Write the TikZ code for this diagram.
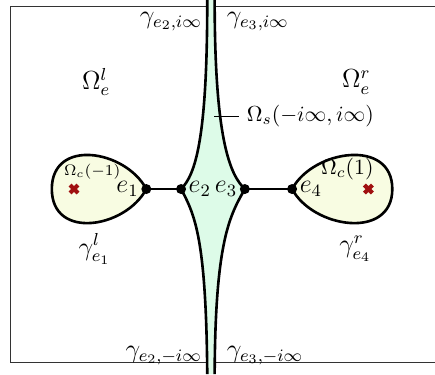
\documentclass[tikz,border=0pt]{standalone}
\usepackage{amsmath,amssymb}
\usepackage{xcolor}
\usepackage{tikz}
\definecolor{stemfill}{RGB}{221,251,232}
\definecolor{loopfill}{RGB}{248,252,226}
\definecolor{crossred}{RGB}{160,16,16}

\begin{document}
\begin{tikzpicture}[x=0.92cm,y=0.92cm,
  curve/.style={line width=1.2pt},
  crossmark/.style={line width=1.9pt,crossred}]
\clip (0,0) rectangle (7.64,6.57);
\draw[thin,black!80] (0.19,0.21) rectangle (7.9,6.46);

% branch points on the real line
\coordinate (e1) at (2.57,3.25);
\coordinate (e2) at (3.18,3.25);
\coordinate (e3) at (4.30,3.25);
\coordinate (e4) at (5.13,3.25);
\coordinate (cl) at (1.30,3.25);
\coordinate (cr) at (6.47,3.25);

% the strip Omega_s
\fill[stemfill] (3.64,6.57) .. controls (3.64,4.11) and (3.43,3.50) .. (e2)
  .. controls (3.43,2.79) and (3.62,2.35) .. (3.64,0) -- (3.77,0)
  .. controls (3.78,2.35) and (4.04,2.79) .. (e3)
  .. controls (4.04,3.50) and (3.77,4.11) .. (3.77,6.57) -- cycle;
\draw[curve] (3.64,6.57) .. controls (3.64,4.11) and (3.43,3.50) .. (e2)
  .. controls (3.43,2.79) and (3.62,2.35) .. (3.64,0);
\draw[curve] (3.77,6.57) .. controls (3.77,4.11) and (4.04,3.50) .. (e3)
  .. controls (4.04,2.79) and (3.78,2.35) .. (3.77,0);

% the two loops
\draw[curve,fill=loopfill] (e1) .. controls (2.20,3.94) and (0.91,4.15) .. (0.91,3.25)
  .. controls (0.91,2.35) and (2.20,2.56) .. (e1);
\draw[curve,fill=loopfill] (e4) .. controls (5.50,3.94) and (6.89,4.15) .. (6.89,3.25)
  .. controls (6.89,2.35) and (5.50,2.56) .. (e4);

\draw[curve] (e1) -- (e2);
\draw[curve] (e3) -- (e4);
\foreach \p in {e1,e2,e3,e4} \fill (\p) circle (2.3pt);

\draw[crossmark] (cl) ++(-0.07,-0.07) -- ++(0.14,0.14) ++(-0.14,0) -- ++(0.14,-0.14);
\draw[crossmark] (cr) ++(-0.07,-0.07) -- ++(0.14,0.14) ++(-0.14,0) -- ++(0.14,-0.14);

\node (le1) [left] at (e1) {\large $e_1$};
\node (le2) [right] at (e2) {\large $e_2$};
\node (le3) [left] at (e3) {\large $e_3$};
\node (le4) [right] at (e4) {\large $e_4$};

\node (wl) at (1.69,5.13) {\large $\Omega_e^l$};
\node (wr) at (6.26,5.13) {\large $\Omega_e^r$};
\node (wcl) at (1.62,3.55) {\scriptsize $\Omega_c(-1)$};
\node (wcr) at (6.10,3.60) {$\Omega_c(1)$};
\node (gl) at (1.66,2.20) {\large $\gamma_{e_1}^l$};
\node (gr) at (6.24,2.20) {\large $\gamma_{e_4}^r$};

\coordinate (pin) at (3.76,4.53);
\node (ws) [right] at (4.20,4.53) {$\Omega_s(-i\infty,i\infty)$};
\draw (pin) -- (ws.west);

\node (g2u) [left] at (3.68,6.19) {\large $\gamma_{e_2,i\infty}$};
\node (g3u) [right] at (3.85,6.19) {\large $\gamma_{e_3,i\infty}$};
\node (g2d) [left] at (3.68,0.33) {\large $\gamma_{e_2,-i\infty}$};
\node (g3d) [right] at (3.85,0.33) {\large $\gamma_{e_3,-i\infty}$};
\end{tikzpicture}
\end{document}
